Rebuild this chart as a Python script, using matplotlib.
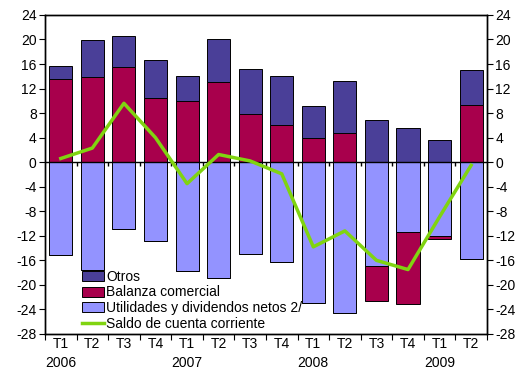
import numpy as np
import matplotlib
matplotlib.use("Agg")
import matplotlib.pyplot as plt

plt.rcParams["font.family"] = ["Liberation Sans", "DejaVu Sans"]
plt.rcParams["font.size"] = 10

# trimestres 2006 T1 - 2009 T2
quarters = ["T1", "T2", "T3", "T4", "T1", "T2", "T3", "T4",
            "T1", "T2", "T3", "T4", "T1", "T2"]
years = {0: "2006", 4: "2007", 8: "2008", 12: "2009"}

otros = [2.1, 6.0, 5.0, 6.1, 4.1, 7.0, 7.4, 8.0, 5.1, 8.5, 6.8, 5.6, 3.6, 5.7]
balanza = [13.6, 13.9, 15.5, 10.5, 10.0, 13.0, 7.8, 6.1, 4.0, 4.7,
           -5.8, -11.8, -0.5, 9.4]
utilidades = [-15.1, -17.5, -10.9, -12.8, -17.7, -18.8, -15.0, -16.2,
              -22.9, -24.5, -16.9, -11.3, -12.1, -15.7]
saldo = [0.6, 2.3, 9.6, 4.0, -3.5, 1.25, 0.2, -1.9, -13.8, -11.2,
         -16.0, -17.5, -8.9, -0.5]

c_otros = "#4a3f98"
c_bal = "#a8004c"
c_util = "#9393ff"
c_saldo = "#80d410"

x = np.arange(len(quarters))
w = 0.73

fig = plt.figure(figsize=(5.19, 3.73), dpi=100)
ax = fig.add_axes([0.0867, 0.1046, 0.8515, 0.8554])

bal = np.array(balanza)
util = np.array(utilidades)
bal_pos = np.where(bal > 0, bal, 0)
bal_neg = np.where(bal < 0, bal, 0)

b_util = ax.bar(x, util, w, color=c_util, edgecolor="black", linewidth=0.7,
                zorder=2)
b_bal = ax.bar(x, bal_pos, w, color=c_bal, edgecolor="black", linewidth=0.7,
               zorder=2)
ax.bar(x, bal_neg, w, bottom=util, color=c_bal, edgecolor="black",
       linewidth=0.7, zorder=2)
b_otros = ax.bar(x, otros, w, bottom=bal_pos, color=c_otros, edgecolor="black",
                 linewidth=0.7, zorder=2)
l_saldo, = ax.plot(x, saldo, color=c_saldo, lw=2.5, zorder=4)

# linea del cero con marcas de categoria
ax.axhline(0, color="black", lw=1, zorder=3)
ax.vlines(x[:-1] + 0.5, -0.6, 0, color="black", lw=1, zorder=3)

ax.set_xlim(-0.5, len(x) - 0.5)
ax.set_ylim(-28, 24)
yt = np.arange(-28, 25, 4)
ax.set_yticks(yt)
ax.set_yticklabels([str(v) for v in yt])

ax.set_xticks(np.arange(-0.5, len(x), 1))
ax.set_xticklabels([])
ax.set_xticks(x, minor=True)
labels = [q + ("\n" + years[i] if i in years else "\n") for i, q in enumerate(quarters)]
ax.set_xticklabels(labels, minor=True, linespacing=1.5)
ax.tick_params(axis="x", which="minor", length=0, pad=2)
ax.tick_params(axis="x", which="major", direction="out", length=4)
ax.tick_params(axis="y", direction="out", length=4, pad=2)

ax2 = ax.twinx()
ax2.set_ylim(-28, 24)
ax2.set_yticks(yt)
ax2.set_yticklabels([str(v) for v in yt])
ax2.tick_params(axis="y", direction="out", length=4, pad=2)

for a in (ax, ax2):
    for s in a.spines.values():
        s.set_linewidth(1)
        s.set_color("black")

ax.legend([b_otros, b_bal, b_util, l_saldo],
          ["Otros", "Balanza comercial", "Utilidades y dividendos netos 2/",
           "Saldo de cuenta corriente"],
          loc="lower left", bbox_to_anchor=(0.084, 0.01), frameon=False,
          borderpad=0, borderaxespad=0, handlelength=1.6, handleheight=0.75,
          handletextpad=0.15, labelspacing=0.12, fontsize=10)

plt.savefig("out.png", dpi=100)
